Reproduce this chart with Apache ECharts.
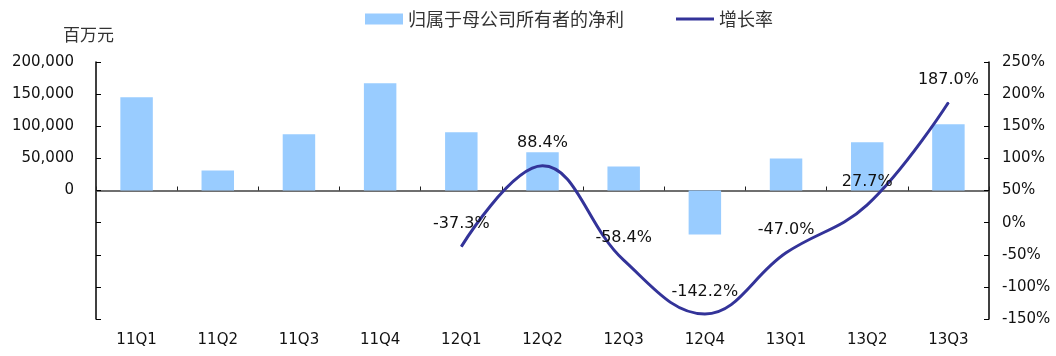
<!DOCTYPE html>
<html><head><meta charset="utf-8">
<script src="https://cdn.jsdelivr.net/npm/echarts@6/dist/echarts.min.js"></script>
<style>html,body{margin:0;padding:0;background:#fff}#c{width:1056px;height:356px}</style>
</head><body><div id="c"></div>
<script>
const categories = ['11Q1','11Q2','11Q3','11Q4','12Q1','12Q2','12Q3','12Q4','13Q1','13Q2','13Q3'];
const netProfit = [145000, 31000, 87500, 167000, 90500, 59500, 37500, -68500, 50000, 75000, 103000];
const growth = [null, null, null, null, -37.3, 88.4, -58.4, -142.2, -47.0, 27.7, 187.0];
const barName = '归属于母公司所有者的净利';
const lineName = '增长率';
const unitLabel = '百万元';

const numFont = '"DejaVu Sans", sans-serif';
const cjkFont = '"Noto Sans CJK SC", sans-serif';
const chart = echarts.init(document.getElementById('c'));
chart.setOption({
  animation: false,
  textStyle: {fontFamily: numFont},
  grid: {left: 96, right: 67, top: 62, bottom: 37},
  legend: {
    top: 5, left: 360, itemGap: 52, itemWidth: 38, itemHeight: 11,
    textStyle: {fontSize: 18, color: '#333', fontFamily: cjkFont},
    data: [
      {name: barName, icon: 'rect'},
      {name: lineName, icon: 'path://M0,0 L38,0 L38,3 L0,3 Z'}
    ]
  },
  graphic: [{type: 'text', left: 63, top: 26, style: {text: unitLabel, fontSize: 17, fill: '#333', fontFamily: cjkFont}}],
  xAxis: [{
    type: 'category', data: categories, position: 'bottom',
    axisLine: {onZero: true, lineStyle: {color: '#404040', width: 1.5}},
    axisTick: {show: true, inside: true, length: 4, lineStyle: {color: '#222'}},
    axisLabel: {show: false}
  }, {
    type: 'category', data: categories, position: 'bottom',
    axisLine: {show: false, onZero: false}, axisTick: {show: false},
    axisLabel: {color: '#111', fontSize: 15, margin: 14}
  }],
  yAxis: [{
    type: 'value', min: -200000, max: 200000, interval: 50000,
    splitLine: {show: false},
    axisLine: {show: true, lineStyle: {color: '#000', width: 1.5}},
    axisTick: {show: true, inside: true, length: 5, lineStyle: {color: '#000'}},
    axisLabel: {color: '#111', fontSize: 15, margin: 22,
      formatter: v => v < 0 ? '' : v.toLocaleString('en-US')}
  }, {
    type: 'value', min: -150, max: 250, interval: 50, position: 'right',
    splitLine: {show: false},
    axisLine: {show: true, lineStyle: {color: '#000', width: 1.5}},
    axisTick: {show: true, inside: true, length: 5, lineStyle: {color: '#000'}},
    axisLabel: {color: '#111', fontSize: 15, margin: 13, formatter: v => v + '%'}
  }],
  series: [{
    name: barName, type: 'bar', xAxisIndex: 0, yAxisIndex: 0,
    data: netProfit, barWidth: '40%',
    itemStyle: {color: '#99CCFF'}
  }, {
    name: lineName, type: 'line', xAxisIndex: 0, yAxisIndex: 1,
    data: growth, smooth: 0.4, symbol: 'circle', symbolSize: 1, showSymbol: true,
    connectNulls: false,
    lineStyle: {color: '#333399', width: 3}, itemStyle: {color: '#333399'},
    label: {show: true, position: 'top', distance: 14, fontSize: 16, color: '#111',
      formatter: p => (p.value == null ? '' : Number(p.value).toFixed(1) + '%')}
  }]
});
</script></body></html>
